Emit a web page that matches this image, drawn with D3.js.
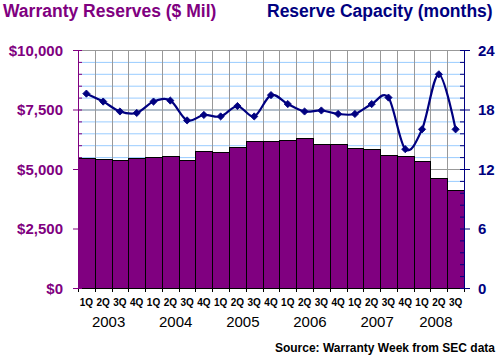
<!DOCTYPE html>
<html>
<head>
<meta charset="utf-8">
<script src="https://cdn.jsdelivr.net/npm/d3@7"></script>
<style>
  body { margin: 0; background: #fff; }
  text { font-family: "Liberation Sans", Arial, sans-serif; }
</style>
</head>
<body>
<div id="chart"></div>
<script>
// ---- data ----
var quarters = ["1Q","2Q","3Q","4Q","1Q","2Q","3Q","4Q","1Q","2Q","3Q","4Q",
                "1Q","2Q","3Q","4Q","1Q","2Q","3Q","4Q","1Q","2Q","3Q"];
var years = ["2003", "2004", "2005", "2006", "2007", "2008"];
var yearStart = [0, 4, 8, 12, 16, 20];   // index of first quarter in each year
var reserves = [5450, 5410, 5365, 5450, 5500, 5545, 5365, 5755, 5700, 5910, 6165, 6165,
                6205, 6290, 6040, 6040, 5870, 5830, 5575, 5535, 5325, 4610, 4120];
var capacity = [19.6, 18.8, 17.8, 17.65, 18.8, 18.9, 16.9, 17.45, 17.3, 18.35, 17.3, 19.45,
                18.55, 17.8, 17.9, 17.55, 17.55, 18.55, 19.2, 14.0, 16.0, 21.55, 16.0];
var leftTicks = [0, 2500, 5000, 7500, 10000];
var rightTicks = [0, 6, 12, 18, 24];

// ---- layout ----
var W = 500, H = 360;
var plot = { left: 78, right: 464, top: 50, bottom: 288 };
var purple = "#800080", navy = "#000080";

var svg = d3.select("#chart").append("svg")
  .attr("width", W)
  .attr("height", H);

var idx = d3.range(quarters.length);

var x = d3.scaleBand()
  .domain(idx)
  .range([plot.left, plot.right])
  .padding(0);

var y = d3.scaleLinear().domain([0, 10000]).range([plot.bottom, plot.top]);
var y2 = d3.scaleLinear().domain([0, 24]).range([plot.bottom, plot.top]);

// minor gridlines (light blue)
svg.append("g")
  .selectAll("line")
  .data(y.ticks(20))
  .join("line")
  .attr("x1", plot.left).attr("x2", plot.right)
  .attr("y1", d => y(d) + 0.5).attr("y2", d => y(d) + 0.5)
  .attr("stroke", "#99ccff");

// vertical gridlines at category boundaries
svg.append("g")
  .selectAll("line")
  .data(idx.slice(1))
  .join("line")
  .attr("x1", d => Math.round(x(d)) + 0.5).attr("x2", d => Math.round(x(d)) + 0.5)
  .attr("y1", plot.top).attr("y2", plot.bottom)
  .attr("stroke", "#999");

// major gridlines (gray)
svg.append("g")
  .selectAll("line")
  .data(leftTicks)
  .join("line")
  .attr("x1", plot.left).attr("x2", plot.right)
  .attr("y1", d => y(d) + 0.5).attr("y2", d => y(d) + 0.5)
  .attr("stroke", "#999");

// bars
svg.append("g")
  .selectAll("rect")
  .data(reserves)
  .join("rect")
  .attr("x", (d, i) => Math.round(x(i)) + 0.5)
  .attr("width", (d, i) => Math.round(x(i) + x.bandwidth()) - Math.round(x(i)))
  .attr("y", d => Math.round(y(d)) + 0.5)
  .attr("height", d => plot.bottom - Math.round(y(d)))
  .attr("fill", purple)
  .attr("stroke", "#000")
  .attr("stroke-width", 1);

// x axis baseline + category ticks
svg.append("line")
  .attr("x1", plot.left).attr("x2", plot.right)
  .attr("y1", plot.bottom + 0.5).attr("y2", plot.bottom + 0.5)
  .attr("stroke", "#000");

svg.append("g")
  .selectAll("line")
  .data(idx.concat([quarters.length]))
  .join("line")
  .attr("x1", d => Math.round(plot.left + d * x.step()) + 0.5)
  .attr("x2", d => Math.round(plot.left + d * x.step()) + 0.5)
  .attr("y1", plot.bottom).attr("y2", plot.bottom + 4)
  .attr("stroke", "#000");

// quarter labels
svg.append("g")
  .selectAll("text")
  .data(quarters)
  .join("text")
  .attr("x", (d, i) => x(i) + x.bandwidth() / 2)
  .attr("y", 306)
  .attr("text-anchor", "middle")
  .attr("font-size", 10)
  .attr("font-weight", "bold")
  .text(d => d);

// year labels
svg.append("g")
  .selectAll("text")
  .data(years)
  .join("text")
  .attr("x", (d, i) => {
    var a = yearStart[i];
    var b = i + 1 < yearStart.length ? yearStart[i + 1] : quarters.length;
    return plot.left + (a + b) / 2 * x.step() - 3;
  })
  .attr("y", 327)
  .attr("text-anchor", "middle")
  .attr("font-size", 15)
  .text(d => d);

// left axis
var leftAxis = svg.append("g");
leftAxis.append("line")
  .attr("x1", plot.left + 0.5).attr("x2", plot.left + 0.5)
  .attr("y1", plot.top).attr("y2", plot.bottom)
  .attr("stroke", purple);
leftAxis.selectAll(".minor")
  .data(y.ticks(20))
  .join("line")
  .attr("class", "minor")
  .attr("x1", plot.left).attr("x2", plot.left + 4)
  .attr("y1", d => y(d) + 0.5).attr("y2", d => y(d) + 0.5)
  .attr("stroke", purple);
leftAxis.selectAll(".major")
  .data(leftTicks)
  .join("line")
  .attr("class", "major")
  .attr("x1", plot.left - 5).attr("x2", plot.left)
  .attr("y1", d => y(d) + 0.5).attr("y2", d => y(d) + 0.5)
  .attr("stroke", purple);
leftAxis.selectAll("text")
  .data(leftTicks)
  .join("text")
  .attr("x", 63)
  .attr("y", d => y(d) + 5.5)
  .attr("text-anchor", "end")
  .attr("font-size", 15)
  .attr("font-weight", "bold")
  .attr("fill", purple)
  .text(d => "$" + d3.format(",")(d));

// right axis
var rightAxis = svg.append("g");
rightAxis.append("line")
  .attr("x1", plot.right + 0.5).attr("x2", plot.right + 0.5)
  .attr("y1", plot.top).attr("y2", plot.bottom)
  .attr("stroke", navy);
rightAxis.selectAll(".minor")
  .data(y.ticks(20))
  .join("line")
  .attr("class", "minor")
  .attr("x1", plot.right - 4).attr("x2", plot.right)
  .attr("y1", d => y(d) + 0.5).attr("y2", d => y(d) + 0.5)
  .attr("stroke", navy);
rightAxis.selectAll(".major")
  .data(rightTicks)
  .join("line")
  .attr("class", "major")
  .attr("x1", plot.right).attr("x2", plot.right + 6)
  .attr("y1", d => y2(d) + 0.5).attr("y2", d => y2(d) + 0.5)
  .attr("stroke", navy);
rightAxis.selectAll("text")
  .data(rightTicks)
  .join("text")
  .attr("x", 478)
  .attr("y", d => y2(d) + 5.5)
  .attr("font-size", 15)
  .attr("font-weight", "bold")
  .attr("fill", navy)
  .text(d => d);

// capacity line (smoothed like Excel)
var line = d3.line()
  .x((d, i) => x(i) + x.bandwidth() / 2)
  .y(d => y2(d))
  .curve(d3.curveCardinal.tension(0));

svg.append("path")
  .datum(capacity)
  .attr("d", line)
  .attr("fill", "none")
  .attr("stroke", navy)
  .attr("stroke-width", 2.2);

svg.append("g")
  .selectAll("path")
  .data(capacity)
  .join("path")
  .attr("d", d3.symbol(d3.symbolSquare, 26))
  .attr("transform", (d, i) => `translate(${x(i) + x.bandwidth() / 2},${y2(d)}) rotate(45)`)
  .attr("fill", navy)
  .attr("stroke", navy)
  .attr("stroke-width", 0.8);

// titles
svg.append("text")
  .attr("x", 3).attr("y", 17)
  .attr("font-size", 17.5)
  .attr("font-weight", "bold")
  .attr("fill", purple)
  .text("Warranty Reserves ($ Mil)");

svg.append("text")
  .attr("x", 267).attr("y", 17)
  .attr("font-size", 17.5)
  .attr("font-weight", "bold")
  .attr("fill", navy)
  .text("Reserve Capacity (months)");

// source note
svg.append("text")
  .attr("x", 495).attr("y", 352)
  .attr("text-anchor", "end")
  .attr("font-size", 12)
  .attr("font-weight", "bold")
  .text("Source: Warranty Week from SEC data");
</script>
</body>
</html>
